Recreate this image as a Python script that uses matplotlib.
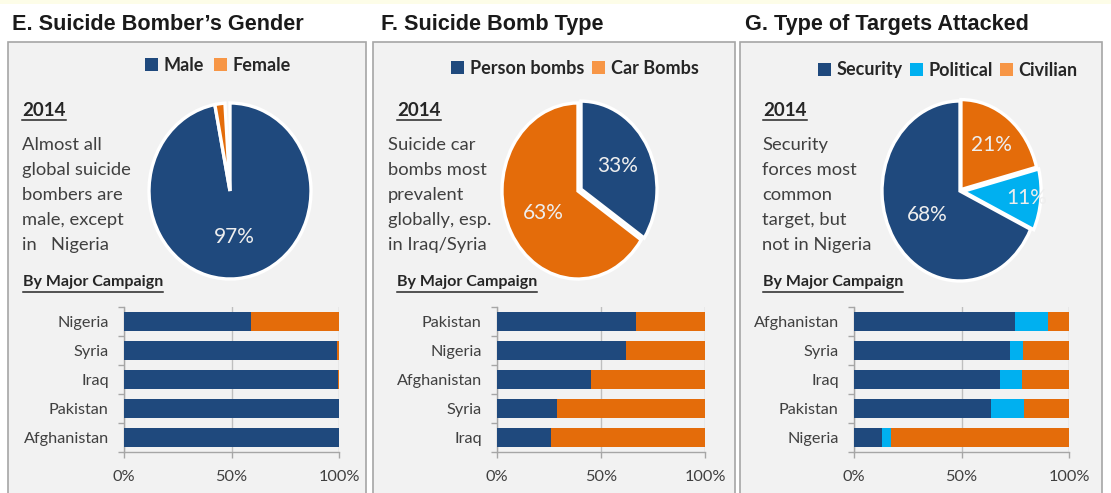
import matplotlib
matplotlib.use("Agg")
import matplotlib.pyplot as plt
from matplotlib.patches import Rectangle, Patch
from matplotlib.lines import Line2D
import numpy as np

# ---------------- data ----------------
panel_titles = ["E. Suicide Bomber\u2019s Gender", "F. Suicide Bomb Type", "G. Type of Targets Attacked"]
year_label = "2014"
campaign_label = "By Major Campaign"
pct_ticks = [0, 50, 100]
pct_tick_labels = ["0%", "50%", "100%"]

gender_labels = ["Male", "Female"]
gender_pie = [97, 2]
gender_text = ["Almost all", "global suicide", "bombers are", "male, except", "in   Nigeria"]
gender_countries = ["Nigeria", "Syria", "Iraq", "Pakistan", "Afghanistan"]
gender_male = [59, 99, 99.5, 100, 100]
gender_female = [41, 1, 0.5, 0, 0]

bomb_labels = ["Person bombs", "Car Bombs"]
bomb_pie = [33, 63]
bomb_text = ["Suicide car", "bombs most", "prevalent", "globally, esp.", "in Iraq/Syria"]
bomb_countries = ["Pakistan", "Nigeria", "Afghanistan", "Syria", "Iraq"]
bomb_person = [67, 62, 45, 29, 26]
bomb_car = [33, 38, 55, 71, 74]

target_labels = ["Security", "Political", "Civilian"]
target_pie = [68, 11, 21]
target_text = ["Security", "forces most", "common", "target, but", "not in Nigeria"]
target_countries = ["Afghanistan", "Syria", "Iraq", "Pakistan", "Nigeria"]
target_security = [75, 72.5, 68, 63.5, 13]
target_political = [15, 6, 10, 15.5, 4]
target_civilian = [10, 21.5, 22, 21, 83]

# ---------------- style ----------------
BLUE = "#1f497d"
ORANGE = "#e46c0a"
ORANGE_LEG = "#f79646"
CYAN = "#00b0f0"
PANEL_BG = "#f2f2f2"
PANEL_EDGE = "#a6a6a6"
TXT = "#404040"
DARK = "#262626"
BODY = "Lato"
TITLE = "Liberation Sans"

W, H = 1111, 493
fig = plt.figure(figsize=(W / 100, H / 100), dpi=100)
fig.patch.set_facecolor("white")


def rect(x, y, w, h):
    return [x / W, 1 - (y + h) / H, w / W, h / H]


def fx(x):
    return x / W


def fy(y):
    return 1 - y / H


# top pale strip
fig.add_artist(Rectangle((0, fy(4)), 1, 4 / H, transform=fig.transFigure,
                         facecolor="#fdfde8", edgecolor="none", zorder=0))

panels = [(8, 366), (373, 735), (740, 1102)]
for (x0, x1) in panels:
    fig.add_artist(Rectangle((fx(x0), fy(500)), fx(x1 - x0), (500 - 42) / H,
                             transform=fig.transFigure, facecolor=PANEL_BG,
                             edgecolor=PANEL_EDGE, linewidth=1.2, zorder=0))

title_x = [12, 381, 745]
for t, x in zip(panel_titles, title_x):
    fig.text(fx(x), fy(30), t, fontsize=15.6, fontweight="bold", family=TITLE,
             color="#1a1a1a", va="baseline", ha="left")

underlined = []


def add_underlined(x, y, s, size, gap):
    t = fig.text(fx(x), fy(y), s, fontsize=size, fontweight="bold", family=BODY,
                 color=DARK, va="baseline", ha="left")
    underlined.append((t, y + gap))


year_x = [22, 397, 763]
camp_x = [23, 397, 763]
desc_x = [22, 388, 762]
descs = [gender_text, bomb_text, target_text]
for i in range(3):
    add_underlined(year_x[i], 116, year_label, 13.5, 4)
    add_underlined(camp_x[i], 286, campaign_label, 11.5, 6)
    for k, line in enumerate(descs[i]):
        fig.text(fx(desc_x[i]), fy(150 + 25 * k), line, fontsize=13.2, family=BODY,
                 color=TXT, va="baseline", ha="left")

# legends
leg_specs = [
    (218, 65, gender_labels, [BLUE, ORANGE_LEG], 0.6),
    (575, 68, bomb_labels, [BLUE, ORANGE_LEG], 0.45),
    (948, 70, target_labels, [BLUE, CYAN, ORANGE_LEG], 0.4),
]
for cx, cy, labs, cols, csp in leg_specs:
    handles = [Patch(facecolor=c, edgecolor="none") for c in cols]
    fig.legend(handles, labs, loc="center", bbox_to_anchor=(fx(cx), fy(cy)),
               ncol=len(labs), frameon=False, handlelength=0.72, handleheight=0.72,
               handletextpad=0.3, columnspacing=csp, borderaxespad=0,
               prop=dict(family=BODY, weight="bold", size=13), labelcolor=DARK)


# pies
def draw_pie(cx, cy, rx, ry, vals, cols, explode, dists, normalize, show):
    ax = fig.add_axes(rect(cx - rx * 1.15, cy - ry * 1.15, 2.3 * rx, 2.3 * ry))
    if normalize:
        v = vals
    else:
        v = [a / 100 for a in vals]
    wedges, _ = ax.pie(v, colors=cols, startangle=90, counterclock=False,
                       explode=explode, normalize=normalize,
                       wedgeprops=dict(edgecolor="white", linewidth=2.4))
    ax.set_xlim(-1.15, 1.15)
    ax.set_ylim(-1.15, 1.15)
    ax.set_aspect("auto")
    ax.axis("off")
    for w, val, d, s in zip(wedges, vals, dists, show):
        if not s:
            continue
        th = np.deg2rad((w.theta1 + w.theta2) / 2)
        x = w.center[0] + d * w.r * np.cos(th)
        y = w.center[1] + d * w.r * np.sin(th)
        ax.text(x, y, f"{val}%", ha="center", va="center", fontsize=15,
                family=BODY, color="#eeeeee")


draw_pie(230, 191, 81, 88, gender_pie, [BLUE, ORANGE], [0, 0], [0.53, 0.5],
         False, [True, False])
draw_pie(578, 191, 76, 88, bomb_pie, [BLUE, ORANGE], [0.045, 0], [0.55, 0.52],
         True, [True, True])
order = [2, 1, 0]
draw_pie(960, 191, 78, 90, [target_pie[i] for i in order],
         [[BLUE, CYAN, ORANGE][i] for i in order], [0.02, 0.04, 0],
         [0.63, 0.82, 0.5], True, [True, True, True])


# bars
def draw_bars(x0, x1, cats, series, cols):
    ax = fig.add_axes(rect(x0, 307, x1 - x0, 145))
    ax.set_facecolor("none")
    y = np.arange(len(cats))
    left = np.zeros(len(cats))
    for s, c in zip(series, cols):
        s = np.array(s, dtype=float)
        ax.barh(y, s, left=left, height=0.65, color=c, zorder=3)
        left += s
    ax.set_xlim(0, 100)
    ax.set_ylim(len(cats) - 0.5, -0.5)
    ax.set_yticks(y)
    ax.set_yticklabels(cats, family=BODY, fontsize=11.7, color=TXT)
    ax.set_yticks(np.arange(len(cats) + 1) - 0.5, minor=True)
    ax.tick_params(axis="y", which="major", length=0, pad=11)
    ax.tick_params(axis="y", which="minor", length=4, color=PANEL_EDGE, width=1)
    ax.set_xticks(pct_ticks)
    ax.set_xticklabels(pct_tick_labels, family=BODY, fontsize=11.7, color=TXT)
    ax.tick_params(axis="x", length=4, color=PANEL_EDGE, width=1, pad=9)
    ax.xaxis.grid(True, color="#bfbfbf", linewidth=1, zorder=0)
    ax.set_axisbelow(True)
    for sp in ["top", "right"]:
        ax.spines[sp].set_visible(False)
    for sp in ["left", "bottom"]:
        ax.spines[sp].set_color(PANEL_EDGE)
        ax.spines[sp].set_linewidth(1)


draw_bars(124, 339, gender_countries, [gender_male, gender_female], [BLUE, ORANGE])
draw_bars(497, 705, bomb_countries, [bomb_person, bomb_car], [BLUE, ORANGE])
draw_bars(854, 1069, target_countries, [target_security, target_political, target_civilian],
          [BLUE, CYAN, ORANGE])

# underlines
fig.canvas.draw()
r = fig.canvas.get_renderer()
for t, uy in underlined:
    bb = t.get_window_extent(renderer=r)
    fig.add_artist(Line2D([bb.x0 / W, bb.x1 / W], [fy(uy), fy(uy)],
                          transform=fig.transFigure, color=DARK, linewidth=1.1))

fig.savefig("out.png", dpi=100, facecolor="white")
